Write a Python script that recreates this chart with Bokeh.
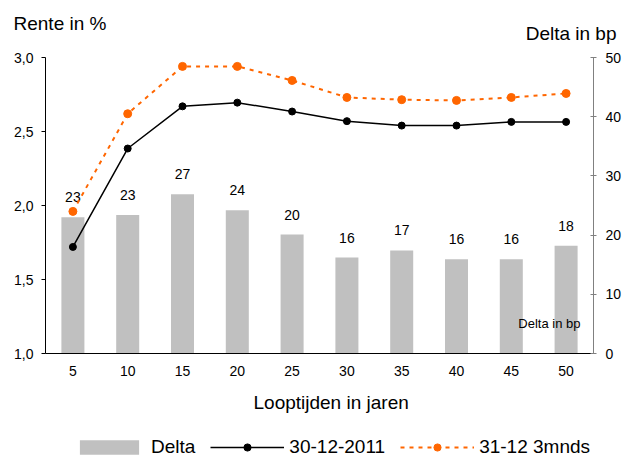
from bokeh.plotting import figure
from bokeh.models import (FactorRange, Range1d, LinearAxis, FixedTicker, Label,
                          Legend, LegendItem, ColumnDataSource, Title)
from bokeh.layouts import column
from bokeh.core.properties import value
from bokeh.embed import file_html
from bokeh.resources import INLINE

# ---- data ----
looptijden = ["5", "10", "15", "20", "25", "30", "35", "40", "45", "50"]
delta_bp = [23.0, 23.4, 26.9, 24.2, 20.1, 16.2, 17.4, 15.9, 15.9, 18.2]
delta_labels = ["23", "23", "27", "24", "20", "16", "17", "16", "16", "18"]
rente_2011 = [1.72, 2.385, 2.67, 2.695, 2.635, 2.57, 2.54, 2.54, 2.565, 2.565]
rente_3mnds = [1.96, 2.62, 2.94, 2.94, 2.845, 2.73, 2.715, 2.71, 2.73, 2.757]
left_ticks = [1.0, 1.5, 2.0, 2.5, 3.0]
left_tick_labels = ["1,0", "1,5", "2,0", "2,5", "3,0"]
right_ticks = [0, 10, 20, 30, 40, 50]
series_names = ["Delta", "30-12-2011", "31-12 3mnds"]

FONT = "Liberation Sans"
ORANGE = "#FF6600"
GREY = "#C0C0C0"
W = 626
TOP_H = 47
LEG_H = 26
MAIN_H = 456 - TOP_H - LEG_H

src = ColumnDataSource(dict(x=looptijden, delta=delta_bp, lab=delta_labels,
                            r1=rente_2011, r2=rente_3mnds))


def no_align(f):
    try:
        f.frame_align = False
    except Exception:
        pass


def bare(h, x_range, y_range):
    f = figure(width=W, height=h, frame_width=W, frame_height=h,
               output_backend="svg", toolbar_location=None,
               x_range=x_range, y_range=y_range,
               x_axis_type=None, y_axis_type=None, min_border=0)
    f.outline_line_color = None
    f.grid.visible = False
    f.background_fill_color = "white"
    f.border_fill_color = "white"
    no_align(f)
    return f


# ---- header with the two axis titles ----
top = bare(TOP_H, Range1d(0, 1), Range1d(0, 1))
top.add_layout(Label(x=13, y=TOP_H - 23, x_units="screen", y_units="screen",
                     text="Rente in %", text_font=FONT, text_font_size="19px",
                     text_baseline="middle", text_align="left", text_color="black"))
top.add_layout(Label(x=616, y=TOP_H - 33, x_units="screen", y_units="screen",
                     text="Delta in bp", text_font=FONT, text_font_size="19px",
                     text_baseline="middle", text_align="right", text_color="black"))

# ---- main chart ----
p = figure(width=W, height=MAIN_H, frame_width=548, frame_height=296,
           output_backend="svg", toolbar_location=None,
           x_range=FactorRange(*looptijden), y_range=Range1d(1.0, 3.0),
           min_border_left=45, min_border_right=33, min_border_top=10,
           min_border_bottom=MAIN_H - 10 - 296)
no_align(p)
p.extra_y_ranges = {"bp": Range1d(0, 50)}
p.outline_line_color = None
p.grid.visible = False
p.background_fill_color = "white"
p.border_fill_color = "white"
p.x_range.range_padding = 0
p.x_range.factor_padding = 0

p.vbar(x="x", top="delta", bottom=0, width=0.42, source=src,
       y_range_name="bp", fill_color=GREY, line_color=None)
p.text(x="x", y="delta", text="lab", source=src, y_range_name="bp",
       text_align="center", text_baseline="alphabetic", y_offset=-20,
       text_font=value(FONT), text_font_size="14px", text_color="black")

p.line(x="x", y="r1", source=src, line_color="black", line_width=1.5)
p.scatter(x="x", y="r1", source=src, size=7, fill_color="black", line_color="black")
p.line(x="x", y="r2", source=src, line_color=ORANGE, line_width=2, line_dash="4 5")
p.scatter(x="x", y="r2", source=src, size=8, fill_color=ORANGE, line_color=ORANGE)

xa = p.xaxis[0]
xa.major_tick_in = 0
xa.major_tick_out = 0
xa.minor_tick_line_color = None
xa.axis_line_color = "black"
xa.major_label_standoff = 12
xa.major_label_text_font = FONT
xa.major_label_text_font_size = "14px"
xa.major_label_text_color = "black"

ya = p.yaxis[0]
ya.ticker = FixedTicker(ticks=left_ticks)
ya.major_label_overrides = {t: s for t, s in zip(left_ticks, left_tick_labels)}
ya.major_tick_in = 0
ya.major_tick_out = 4
ya.minor_tick_line_color = None
ya.axis_line_color = "black"
ya.major_tick_line_color = "black"
ya.major_label_standoff = 8
ya.major_label_text_font = FONT
ya.major_label_text_font_size = "14px"
ya.major_label_text_color = "black"

ra = LinearAxis(y_range_name="bp", ticker=FixedTicker(ticks=right_ticks))
ra.major_tick_in = 3
ra.major_tick_out = 3
ra.minor_tick_line_color = None
ra.axis_line_color = "#808080"
ra.major_tick_line_color = "#808080"
ra.major_label_standoff = 9
ra.major_label_text_font = FONT
ra.major_label_text_font_size = "14px"
ra.major_label_text_color = "black"
p.add_layout(ra, "right")

p.add_layout(Label(x=535, y=30, x_units="screen", y_units="screen", text="Delta in bp",
                   text_font=FONT, text_font_size="13px", text_baseline="middle",
                   text_align="right", text_color="black"))

p.add_layout(Title(text="Looptijden in jaren", align="left", offset=208, standoff=26,
                   vertical_align="top", text_font=FONT, text_font_size="19px",
                   text_font_style="normal", text_color="black"), "below")

# ---- legend strip: same series, drawn outside its visible y-range ----
leg = bare(LEG_H, FactorRange(*looptijden), Range1d(100, 101))
rb = leg.vbar(x="x", top="delta", bottom=0, width=0.42, source=src,
              fill_color=GREY, line_color=None)
rl1 = leg.line(x="x", y="r1", source=src, line_color="black", line_width=1.5)
rs1 = leg.scatter(x="x", y="r1", source=src, size=7, fill_color="black", line_color="black")
rl2 = leg.line(x="x", y="r2", source=src, line_color=ORANGE, line_width=2, line_dash="4 5")
rs2 = leg.scatter(x="x", y="r2", source=src, size=8, fill_color=ORANGE, line_color=ORANGE)

legend = Legend(items=[LegendItem(label=series_names[0], renderers=[rb]),
                       LegendItem(label=series_names[1], renderers=[rl1, rs1]),
                       LegendItem(label=series_names[2], renderers=[rl2, rs2])],
                location=(72, -2), orientation="horizontal",
                glyph_width=74, glyph_height=18, label_standoff=5, padding=0,
                margin=0, spacing=15, border_line_color=None,
                background_fill_alpha=0, label_text_font=FONT,
                label_text_font_size="19px", label_text_color="black")
leg.add_layout(legend, "center")

layout = column(top, p, leg, spacing=0)
open("out.html", "w").write(file_html(layout, INLINE))
